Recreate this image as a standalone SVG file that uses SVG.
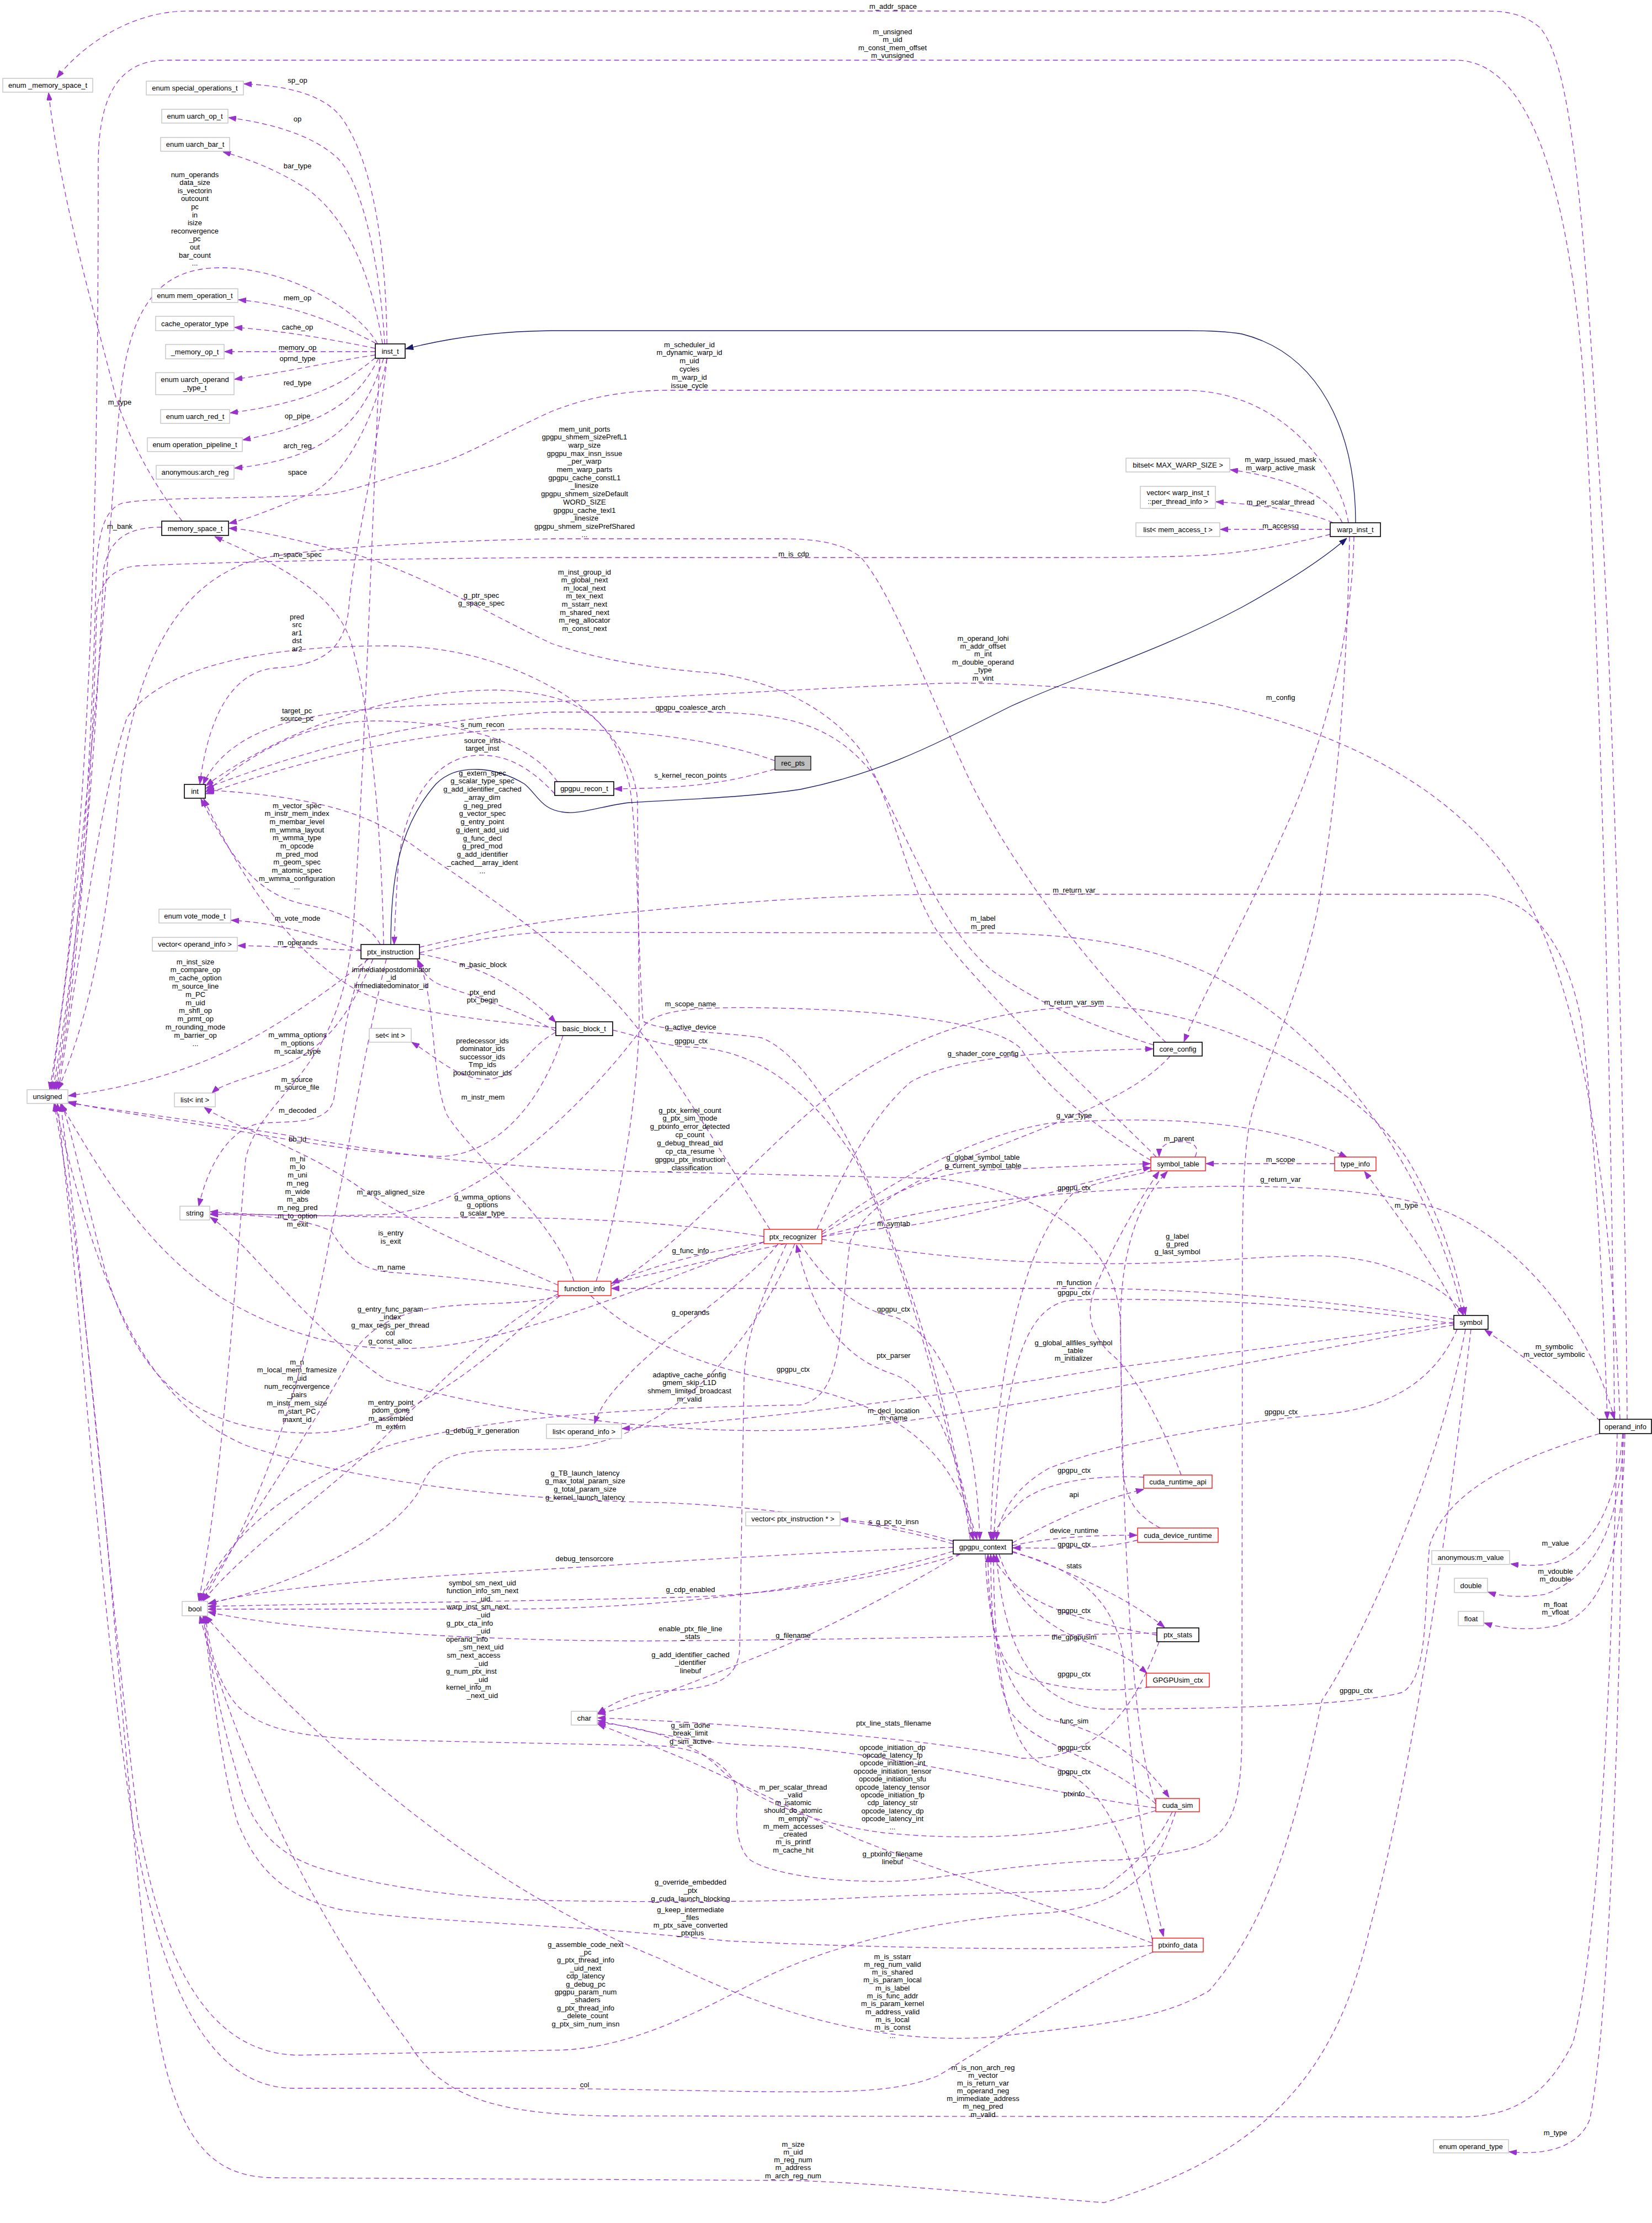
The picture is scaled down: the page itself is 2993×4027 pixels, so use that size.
<svg xmlns="http://www.w3.org/2000/svg" width="2993" height="4027" viewBox="0 0 2993 4027">
<style>
text{font-family:"Liberation Sans",Arial,Helvetica,sans-serif;font-size:13px;fill:#000;text-anchor:middle}
.g rect{fill:#fff;stroke:#bfbfbf;stroke-width:1.3}
.k rect{fill:#fff;stroke:#000;stroke-width:1.6}
.r rect{fill:#fff;stroke:#ff0000;stroke-width:1.3}
.f rect{fill:#bfbfbf;stroke:#000;stroke-width:1.3}
#edges path{fill:none;stroke:#9a32cd;stroke-width:1.3;stroke-dasharray:9,6;marker-end:url(#a)}
#edges path.i{stroke:#191970;stroke-dasharray:none;marker-end:url(#b)}
</style>
<defs>
<marker id="a" viewBox="0 0 14 10" refX="14" refY="5" markerWidth="14" markerHeight="10" markerUnits="userSpaceOnUse" orient="auto"><path d="M0,0 L14,5 L0,10 z" fill="#9a32cd" stroke="#9a32cd" stroke-dasharray="none"/></marker>
<marker id="b" viewBox="0 0 14 10" refX="14" refY="5" markerWidth="14" markerHeight="10" markerUnits="userSpaceOnUse" orient="auto"><path d="M0,0 L14,5 L0,10 z" fill="#191970" stroke="#191970" stroke-dasharray="none"/></marker>
</defs>
<rect width="2993" height="4027" fill="#fff"/>
<g id="edges">
<path d="M2948,2571 C2945,2200 2930,1400 2900,900 C2870,400 2850,120 2790,50 C2760,25 2730,20 2690,20 L340,20 C240,20 150,80 103,141"/>
<path d="M2925,2571 C2920,2000 2900,1200 2870,700 C2840,300 2760,112 2640,109 L300,109 C200,109 178,200 178,300 C178,800 170,1500 90,1974"/>
<path d="M701,623 C700,470 680,300 620,215 C590,172 520,155 442,152"/>
<path d="M697,623 C690,500 660,330 610,285 C560,240 480,222 414,213"/>
<path d="M693,623 C670,480 620,390 560,345 C500,305 440,285 404,275"/>
<path d="M684,623 C650,560 520,485 400,485 C300,485 240,540 220,700 C200,900 185,1300 93,1974"/>
<path d="M681,622 C620,590 540,553 432,543"/>
<path d="M680,631 C600,615 520,600 425,593"/>
<path d="M680,637 L407,637"/>
<path d="M680,643 C600,655 520,674 425,687"/>
<path d="M680,648 C630,690 570,728 417,748"/>
<path d="M686,649 C650,720 600,765 440,797"/>
<path d="M695,649 C660,760 600,830 425,848"/>
<path d="M701,649 C680,760 620,870 560,895 C500,920 450,940 415,948"/>
<path d="M330,944 C280,880 235,800 210,720 C170,560 110,360 88,168"/>
<path d="M293,955 C240,955 200,970 188,1030 C175,1300 160,1600 96,1974"/>
<path class="i" d="M2456,947 C2456,780 2390,640 2250,605 C2220,600 2180,599 2150,599 L1000,599 C880,600 790,618 735,632"/>
<path d="M2443,947 C2430,860 2330,710 2150,707 L1210,707 C1120,707 1050,725 1000,745 C900,790 830,835 765,848 C700,865 640,890 590,896 C420,905 270,900 220,912 C185,925 176,980 174,1050 C168,1300 150,1700 99,1974"/>
<path d="M2432,947 C2410,900 2340,866 2229,851"/>
<path d="M2415,947 C2380,930 2300,915 2203,909"/>
<path d="M2410,959 L2211,959"/>
<path d="M2410,968 C2340,985 2270,1000 2180,1006 C2100,1010 2000,1010 1900,1010 L1000,1010 C700,1012 400,1018 250,1025 C195,1030 180,1060 175,1110 C168,1400 145,1750 102,1974"/>
<path d="M2453,972 C2450,1150 2400,1350 2320,1520 C2250,1680 2180,1800 2145,1887"/>
<path d="M2112,1888 C2000,1780 1850,1600 1760,1420 C1680,1250 1620,1080 1560,1010 C1530,985 1480,976 1420,976 L1000,976 C800,980 600,990 480,1010 C350,1040 260,1150 220,1400 C200,1600 180,1800 105,1974"/>
<path d="M695,1711 C690,1450 665,1260 635,1160 C600,1060 470,1010 389,972"/>
<path d="M2095,2096 C2000,2000 1800,1820 1700,1690 C1640,1600 1620,1450 1560,1360 C1500,1280 1400,1235 1300,1220 C1200,1212 1100,1200 1000,1166 C900,1120 750,1030 620,998 C540,980 470,960 415,957"/>
<path d="M701,650 C680,850 640,1000 632,1100 C625,1180 580,1205 500,1210 C430,1215 380,1280 362,1420"/>
<path d="M1080,2321 C1120,2200 1155,2000 1158,1850 L1155,1450 C1150,1380 1100,1300 1000,1245 C900,1190 800,1170 700,1170 C500,1170 300,1200 230,1300 C180,1450 150,1700 106,1974"/>
<path d="M2935,2571 C2920,2200 2880,1900 2800,1700 C2700,1450 2450,1330 2200,1275 C2000,1245 1800,1235 1700,1238 C1400,1250 1200,1265 1000,1271 C800,1275 650,1280 560,1300 C450,1320 390,1370 368,1421"/>
<path d="M2090,1893 C2000,1865 1900,1830 1800,1760 C1700,1680 1640,1500 1580,1400 C1500,1300 1400,1290 1250,1290 L1000,1290 C800,1300 600,1340 373,1428"/>
<path d="M1010,1416 C950,1330 800,1306 680,1306 C560,1306 460,1360 373,1435"/>
<path d="M1404,1378 C1300,1340 1150,1322 1000,1320 C800,1318 600,1360 373,1438"/>
<path d="M1005,1438 C960,1390 920,1368 870,1368 C790,1368 735,1450 722,1560 C718,1620 716,1660 714,1711"/>
<path d="M1404,1393 C1320,1418 1250,1428 1113,1429"/>
<path d="M1395,2227 C1300,2080 1200,1900 1100,1800 C1000,1700 880,1620 760,1540 C680,1480 600,1445 374,1431"/>
<path d="M689,1711 C670,1675 620,1652 560,1640 C480,1625 430,1580 364,1447"/>
<path d="M760,1716 C850,1695 950,1672 1050,1662 C1300,1635 1500,1622 1700,1620 L2670,1620 C2780,1620 2840,1720 2865,1850 C2890,2050 2905,2350 2912,2571"/>
<path d="M656,1722 C560,1690 500,1672 419,1667"/>
<path d="M760,1726 C850,1705 920,1690 1000,1689 L1800,1690 C2000,1695 2150,1720 2300,1830 C2450,1940 2600,2150 2650,2382"/>
<path d="M654,1722 C560,1718 500,1714 431,1713"/>
<path d="M668,1737 C600,1790 520,1850 420,1900 C320,1950 200,1975 124,1985"/>
<path d="M1007,1862 C900,1850 720,1835 640,1790 C540,1730 450,1620 369,1447"/>
<path d="M760,1728 C850,1745 930,1775 1007,1852"/>
<path d="M1007,1868 C940,1830 860,1805 800,1785 C775,1775 765,1760 756,1738"/>
<path d="M2085,2102 C1950,2020 1880,1950 1850,1900 C1800,1850 1600,1830 1400,1826 C1250,1823 1190,1830 1165,1860 C1100,1950 900,2180 700,2200 C550,2205 450,2200 381,2195"/>
<path d="M1107,2330 C1250,2250 1400,2050 1550,1950 C1700,1850 1850,1823 2000,1823 C2200,1830 2450,1950 2550,2100 C2610,2200 2640,2300 2655,2382"/>
<path d="M1758,2790 C1720,2500 1550,1950 1380,1880 C1300,1868 1200,1870 1165,1850 C1155,1700 1155,1500 1140,1420 C1110,1300 1050,1255 900,1250 C700,1250 500,1330 373,1423"/>
<path d="M1110,1866 C1170,1880 1200,1895 1252,1897 C1350,1900 1450,1950 1550,2100 C1650,2300 1720,2600 1763,2789"/>
<path d="M676,1737 C640,1820 600,1900 500,1935 C440,1955 400,1965 384,1980"/>
<path d="M1007,1870 C950,1900 940,1955 880,1955 C830,1955 790,1915 746,1888"/>
<path d="M1480,2227 C1530,2120 1580,2020 1650,1960 C1720,1920 1850,1905 2089,1900"/>
<path d="M665,1737 C630,1800 615,1920 605,1990 C595,2040 520,2030 470,2035 C420,2045 380,2100 360,2185"/>
<path d="M1040,2321 C1000,2200 860,2100 810,2020 C780,1950 790,1800 757,1740"/>
<path d="M688,650 C676,900 660,1400 640,1680 C620,1950 470,1980 445,2100 C420,2400 400,2700 360,2900"/>
<path d="M2094,3265 C2050,3150 2035,2800 2030,2400 C2025,2250 1900,2160 1700,2135 L1250,2124 C1000,2121 800,2105 600,2070 C400,2035 200,2010 124,1998"/>
<path d="M1489,2232 C1600,2150 1750,2060 1900,2035 C2100,2020 2300,2030 2440,2096"/>
<path d="M2165,2096 C2175,2075 2160,2068 2135,2068 C2110,2068 2100,2080 2100,2095"/>
<path d="M1020,1876 C980,2000 900,2090 800,2095 C650,2090 500,2060 380,2040 C250,2020 160,2005 124,1996"/>
<path d="M1489,2236 C1600,2170 1680,2125 1781,2120 C1900,2115 2000,2110 2084,2108"/>
<path d="M2418,2108 L2185,2108"/>
<path d="M700,1737 C660,1900 620,2150 600,2230 C570,2400 500,2700 365,2900"/>
<path d="M1489,2240 C1700,2180 1900,2160 2100,2152 C2300,2144 2500,2150 2620,2195 C2750,2250 2880,2400 2925,2571"/>
<path d="M2088,2121 C2000,2140 1960,2150 1946,2160 C1850,2250 1800,2500 1795,2789"/>
<path d="M1011,2328 C900,2280 750,2220 650,2150 C550,2080 420,2040 370,2006"/>
<path d="M1384,2240 C1200,2210 1000,2205 874,2206 C700,2206 500,2200 381,2199"/>
<path d="M2644,2383 C2600,2290 2530,2200 2472,2122"/>
<path d="M1107,2325 C1300,2280 1500,2230 1619,2224 C1800,2200 1950,2140 2085,2115"/>
<path d="M1015,2347 C900,2380 720,2330 640,2450 C560,2600 420,2800 362,2900"/>
<path d="M1489,2245 C1700,2280 1900,2295 2128,2287 C2300,2280 2400,2262 2500,2290 C2580,2315 2630,2345 2652,2382"/>
<path d="M1384,2250 C1300,2265 1200,2285 1108,2325"/>
<path d="M1011,2340 C900,2320 780,2310 709,2305 C640,2300 620,2260 600,2230 C560,2210 480,2200 381,2200"/>
<path d="M2634,2390 C2400,2355 2200,2338 2000,2334 L1108,2334"/>
<path d="M2634,2398 C2400,2360 2100,2350 1946,2355 C1850,2360 1820,2500 1800,2789"/>
<path d="M1384,2250 C1200,2320 1000,2400 850,2430 C700,2460 550,2440 400,2350 C250,2250 170,2100 110,2000"/>
<path d="M1450,2253 C1500,2330 1560,2375 1619,2385 C1720,2420 1770,2600 1775,2789"/>
<path d="M1410,2253 C1350,2330 1200,2420 1130,2500 C1100,2530 1085,2555 1077,2579"/>
<path d="M2634,2395 C2400,2430 2150,2460 2000,2480 C1700,2530 1400,2570 1127,2588"/>
<path d="M2900,2575 C2820,2500 2750,2450 2690,2409"/>
<path d="M1765,2790 C1740,2650 1700,2520 1620,2490 C1530,2460 1480,2400 1443,2255"/>
<path d="M1015,2347 C900,2440 750,2600 550,2596 C350,2590 250,2500 190,2300 C150,2150 130,2050 112,2000"/>
<path d="M1070,2347 C1150,2420 1250,2470 1400,2500 C1600,2540 1720,2600 1770,2789"/>
<path d="M2120,1913 C2000,2050 1600,2100 1540,2250 C1520,2400 1530,2530 1450,2545 C1200,2550 900,2560 700,2620 C500,2700 400,2800 362,2900"/>
<path d="M1011,2344 C900,2400 800,2500 700,2600 C600,2700 450,2800 368,2900"/>
<path d="M2634,2400 C2300,2460 1900,2540 1619,2577 C1300,2620 900,2560 700,2500 C550,2400 450,2250 381,2205"/>
<path d="M2640,2408 C2600,2500 2520,2550 2400,2562 C2200,2580 2000,2620 1900,2660 C1830,2700 1810,2750 1805,2789"/>
<path d="M1440,2253 C1360,2450 1200,2620 1000,2625 C850,2628 790,2620 760,2700 C700,2800 500,2880 377,2905"/>
<path d="M2072,2676 C2000,2672 1900,2680 1850,2720 C1820,2750 1800,2770 1797,2789"/>
<path d="M1727,2797 C1600,2760 1400,2730 1200,2722 C1000,2718 700,2700 450,2620 C250,2540 170,2300 100,2000"/>
<path d="M1834,2795 C1900,2760 1980,2720 2072,2698"/>
<path d="M1727,2792 C1650,2770 1600,2760 1523,2752"/>
<path d="M1834,2800 C1900,2785 1980,2781 2060,2781"/>
<path d="M2940,2597 C2930,2720 2890,2800 2820,2830 C2790,2838 2760,2836 2737,2833"/>
<path d="M2061,2790 C2000,2805 1950,2805 1835,2804"/>
<path d="M1727,2803 C1500,2810 1200,2830 1000,2842 C800,2855 500,2870 378,2905"/>
<path d="M1834,2810 C1950,2850 2050,2900 2110,2948"/>
<path d="M2942,2597 C2935,2750 2900,2850 2800,2888 C2760,2895 2720,2892 2696,2884"/>
<path d="M1727,2810 C1500,2880 1200,2915 900,2915 C600,2915 450,2915 377,2915"/>
<path d="M1740,2815 C1600,2860 1400,2888 1251,2893 C1000,2900 600,2905 377,2910"/>
<path d="M2944,2597 C2940,2800 2910,2920 2820,2945 C2770,2955 2720,2950 2689,2940"/>
<path d="M2096,2962 C2000,2945 1900,2920 1850,2880 C1820,2855 1805,2835 1800,2816"/>
<path d="M2096,2958 C1800,2965 1500,2970 1251,2972 C1000,2975 800,2965 600,2950 C500,2942 420,2930 377,2920"/>
<path d="M1740,2815 C1650,2870 1500,2950 1400,2990 C1250,3050 1150,3090 1083,3105"/>
<path d="M1810,2815 C1830,2880 1880,2950 2000,2985 C2040,3000 2060,3015 2078,3031"/>
<path d="M1425,2253 C1380,2350 1350,2420 1348,2500 L1340,2990 C1335,3040 1300,3060 1200,3063 C1150,3065 1110,3085 1083,3104"/>
<path d="M2083,3056 C2000,3068 1900,3060 1840,3030 C1800,3000 1790,2900 1790,2816"/>
<path d="M2898,2597 C2750,2640 2620,2700 2590,2800 C2580,2900 2590,3040 2540,3066 C2450,3090 2200,3096 2000,3096 C1880,3090 1820,3000 1805,2816"/>
<path d="M1785,2816 C1790,2950 1820,3080 1900,3115 C1980,3130 2060,3170 2118,3256"/>
<path d="M2100,2974 C2060,3080 2000,3190 1850,3185 C1700,3150 1300,3120 1083,3112"/>
<path d="M2094,3275 C1900,3250 1600,3170 1400,3163 C1250,3160 1150,3130 1083,3117"/>
<path d="M2094,3268 C2000,3180 1880,3170 1830,3100 C1800,3040 1795,2900 1795,2816"/>
<path d="M2094,3280 C1900,3340 1700,3330 1600,3320 C1450,3300 1350,3250 1300,3200 C1250,3150 1150,3125 1083,3121"/>
<path d="M2088,3515 C2050,3350 2000,3220 1900,3200 C1820,3180 1800,3000 1800,2816"/>
<path d="M2445,972 C2440,1250 2420,1450 2395,1600 C2370,1780 2290,1920 2265,2030 C2255,2080 2252,2150 2251,2250 L2250,3150 C2248,3280 2230,3330 2150,3350 C2080,3365 2040,3370 2000,3370 C1800,3380 1700,3405 1620,3408 C1500,3410 1400,3395 1360,3370 C1335,3350 1332,3300 1336,3260 C1340,3220 1300,3170 1200,3163 C1100,3160 800,3155 640,3150 C540,3145 470,3130 430,3090 C395,3050 380,2990 372,2927"/>
<path d="M1834,2812 C1950,2840 2020,2900 2035,3000 C2045,3200 2080,3400 2108,3508"/>
<path d="M2088,3520 C1900,3450 1700,3390 1550,3330 C1400,3260 1300,3210 1200,3170 C1140,3145 1100,3130 1083,3123"/>
<path d="M2124,3282 C2100,3330 2070,3370 2000,3420 C1900,3430 1700,3430 1550,3438 C1400,3446 1200,3446 1000,3443 C850,3440 700,3420 600,3390 C520,3370 470,3330 440,3250 C410,3150 385,3050 370,2927"/>
<path d="M2088,3524 C2050,3528 2000,3529 1900,3530 C1700,3530 1500,3525 1319,3516 C1200,3505 1100,3495 1000,3490 C850,3480 720,3475 620,3460 C530,3440 470,3400 430,3300 C400,3200 385,3050 368,2927"/>
<path d="M2130,3282 C2100,3380 2050,3450 1900,3465 C1700,3475 1500,3520 1350,3600 C1200,3680 1100,3714 1000,3714 L540,3723 C400,3720 300,3600 250,3300 C200,2900 160,2400 110,2000"/>
<path d="M2655,2408 C2600,2700 2450,3000 2395,3080 C2350,3300 2300,3480 2191,3606 C2100,3660 2000,3666 1800,3690 C1600,3705 1400,3650 1200,3550 C1000,3470 700,3300 372,2927"/>
<path d="M2930,2597 C2920,3000 2900,3500 2850,3700 C2800,3800 2740,3833 2650,3835 L1100,3833 C900,3830 800,3800 740,3700 C550,3450 420,3150 362,2927"/>
<path d="M2090,3536 C2000,3570 1800,3700 1700,3760 C1600,3800 1500,3790 1000,3783 L530,3783 C400,3780 300,3650 240,3300 C180,2900 150,2400 104,1999"/>
<path d="M2940,2597 C2935,3200 2910,3700 2880,3840 C2860,3890 2800,3905 2734,3898"/>
<path d="M2665,2408 C2620,2800 2560,3200 2480,3500 C2420,3750 2300,3900 2000,3990 C1800,3975 1600,3955 1437,3950 L500,3945 C400,3945 330,3900 290,3700 C230,3400 190,2500 98,1999"/>
<path d="M2102,2768 C2060,2745 2035,2720 2033,2640 L2030,2400 C2030,2250 2070,2170 2115,2122"/>
<path d="M2140,2672 C2110,2590 2060,2490 2010,2450 C1980,2420 1960,2380 1990,2320 C2020,2250 2060,2180 2100,2122"/>
<path class="i" d="M708,1711 C708,1600 720,1500 790,1420 C830,1380 900,1390 950,1420 C975,1440 980,1470 1030,1472 C1060,1473 1100,1458 1140,1454 C1250,1447 1350,1445 1450,1430 C1600,1400 1700,1345 1830,1280 C1950,1225 2100,1180 2250,1100 C2340,1050 2400,1010 2440,975"/>
</g>
<g id="edge-labels">
<text x="1618" y="15.5">m_addr_space</text>
<text x="1617" y="61.5"><tspan x="1617">m_unsigned</tspan><tspan x="1617" dy="14.6">m_uid</tspan><tspan x="1617" dy="14.6">m_const_mem_offset</tspan><tspan x="1617" dy="14.6">m_vunsigned</tspan></text>
<text x="539" y="149.5">sp_op</text>
<text x="539" y="219.5">op</text>
<text x="539" y="304.5">bar_type</text>
<text x="353" y="320.5"><tspan x="353">num_operands</tspan><tspan x="353" dy="14.6">data_size</tspan><tspan x="353" dy="14.6">is_vectorin</tspan><tspan x="353" dy="14.6">outcount</tspan><tspan x="353" dy="14.6">pc</tspan><tspan x="353" dy="14.6">in</tspan><tspan x="353" dy="14.6">isize</tspan><tspan x="353" dy="14.6">reconvergence</tspan><tspan x="353" dy="14.6">_pc</tspan><tspan x="353" dy="14.6">out</tspan><tspan x="353" dy="14.6">bar_count</tspan><tspan x="353" dy="14.6">...</tspan></text>
<text x="539" y="543.5">mem_op</text>
<text x="539" y="596.5">cache_op</text>
<text x="539" y="633.5">memory_op</text>
<text x="539" y="653.5">oprnd_type</text>
<text x="539" y="697.5">red_type</text>
<text x="539" y="757.5">op_pipe</text>
<text x="539" y="811.5">arch_reg</text>
<text x="539" y="859.5">space</text>
<text x="217" y="732.5">m_type</text>
<text x="217" y="957.5">m_bank</text>
<text x="1249" y="628.5"><tspan x="1249">m_scheduler_id</tspan><tspan x="1249" dy="14.8">m_dynamic_warp_id</tspan><tspan x="1249" dy="14.8">m_uid</tspan><tspan x="1249" dy="14.8">cycles</tspan><tspan x="1249" dy="14.8">m_warp_id</tspan><tspan x="1249" dy="14.8">issue_cycle</tspan></text>
<text x="1059" y="781.5"><tspan x="1059">mem_unit_ports</tspan><tspan x="1059" dy="14.7">gpgpu_shmem_sizePrefL1</tspan><tspan x="1059" dy="14.7">warp_size</tspan><tspan x="1059" dy="14.7">gpgpu_max_insn_issue</tspan><tspan x="1059" dy="14.7">_per_warp</tspan><tspan x="1059" dy="14.7">mem_warp_parts</tspan><tspan x="1059" dy="14.7">gpgpu_cache_constL1</tspan><tspan x="1059" dy="14.7">_linesize</tspan><tspan x="1059" dy="14.7">gpgpu_shmem_sizeDefault</tspan><tspan x="1059" dy="14.7">WORD_SIZE</tspan><tspan x="1059" dy="14.7">gpgpu_cache_texl1</tspan><tspan x="1059" dy="14.7">_linesize</tspan><tspan x="1059" dy="14.7">gpgpu_shmem_sizePrefShared</tspan><tspan x="1059" dy="14.7">...</tspan></text>
<text x="2320" y="836.5"><tspan x="2320">m_warp_issued_mask</tspan><tspan x="2320" dy="15.5">m_warp_active_mask</tspan></text>
<text x="2320" y="913.5">m_per_scalar_thread</text>
<text x="2320" y="956.5">m_accessq</text>
<text x="539" y="1008.5">m_space_spec</text>
<text x="872" y="1082.5"><tspan x="872">g_ptr_spec</tspan><tspan x="872" dy="14.6">g_space_spec</tspan></text>
<text x="538" y="1121.5"><tspan x="538">pred</tspan><tspan x="538" dy="14.5">src</tspan><tspan x="538" dy="14.5">ar1</tspan><tspan x="538" dy="14.5">dst</tspan><tspan x="538" dy="14.5">ar2</tspan></text>
<text x="1438" y="1007.5">m_is_cdp</text>
<text x="1059" y="1040.5"><tspan x="1059">m_inst_group_id</tspan><tspan x="1059" dy="14.6">m_global_next</tspan><tspan x="1059" dy="14.6">m_local_next</tspan><tspan x="1059" dy="14.6">m_tex_next</tspan><tspan x="1059" dy="14.6">m_sstarr_next</tspan><tspan x="1059" dy="14.6">m_shared_next</tspan><tspan x="1059" dy="14.6">m_reg_allocator</tspan><tspan x="1059" dy="14.6">m_const_next</tspan></text>
<text x="1781" y="1160.5"><tspan x="1781">m_operand_lohi</tspan><tspan x="1781" dy="14.4">m_addr_offset</tspan><tspan x="1781" dy="14.4">m_int</tspan><tspan x="1781" dy="14.4">m_double_operand</tspan><tspan x="1781" dy="14.4">_type</tspan><tspan x="1781" dy="14.4">m_vint</tspan></text>
<text x="2320" y="1267.5">m_config</text>
<text x="1251" y="1285.5">gpgpu_coalesce_arch</text>
<text x="538" y="1291.5"><tspan x="538">target_pc</tspan><tspan x="538" dy="14.5">source_pc</tspan></text>
<text x="874" y="1316.5">s_num_recon</text>
<text x="874" y="1345.5"><tspan x="874">source_inst</tspan><tspan x="874" dy="14.8">target_inst</tspan></text>
<text x="1251" y="1408.5">s_kernel_recon_points</text>
<text x="874" y="1404.5"><tspan x="874">g_extern_spec</tspan><tspan x="874" dy="14.75">g_scalar_type_spec</tspan><tspan x="874" dy="14.75">g_add_identifier_cached</tspan><tspan x="874" dy="14.75">_array_dim</tspan><tspan x="874" dy="14.75">g_neg_pred</tspan><tspan x="874" dy="14.75">g_vector_spec</tspan><tspan x="874" dy="14.75">g_entry_point</tspan><tspan x="874" dy="14.75">g_ident_add_uid</tspan><tspan x="874" dy="14.75">g_func_decl</tspan><tspan x="874" dy="14.75">g_pred_mod</tspan><tspan x="874" dy="14.75">g_add_identifier</tspan><tspan x="874" dy="14.75">_cached__array_ident</tspan><tspan x="874" dy="14.75">...</tspan></text>
<text x="538" y="1463.5"><tspan x="538">m_vector_spec</tspan><tspan x="538" dy="14.7">m_instr_mem_index</tspan><tspan x="538" dy="14.7">m_membar_level</tspan><tspan x="538" dy="14.7">m_wmma_layout</tspan><tspan x="538" dy="14.7">m_wmma_type</tspan><tspan x="538" dy="14.7">m_opcode</tspan><tspan x="538" dy="14.7">m_pred_mod</tspan><tspan x="538" dy="14.7">m_geom_spec</tspan><tspan x="538" dy="14.7">m_atomic_spec</tspan><tspan x="538" dy="14.7">m_wmma_configuration</tspan><tspan x="538" dy="14.7">...</tspan></text>
<text x="1946" y="1616.5">m_return_var</text>
<text x="539" y="1667.5">m_vote_mode</text>
<text x="1781" y="1667.5"><tspan x="1781">m_label</tspan><tspan x="1781" dy="15">m_pred</tspan></text>
<text x="539" y="1711.5">m_operands</text>
<text x="354" y="1746.5"><tspan x="354">m_inst_size</tspan><tspan x="354" dy="14.8">m_compare_op</tspan><tspan x="354" dy="14.8">m_cache_option</tspan><tspan x="354" dy="14.8">m_source_line</tspan><tspan x="354" dy="14.8">m_PC</tspan><tspan x="354" dy="14.8">m_uid</tspan><tspan x="354" dy="14.8">m_shfl_op</tspan><tspan x="354" dy="14.8">m_prmt_op</tspan><tspan x="354" dy="14.8">m_rounding_mode</tspan><tspan x="354" dy="14.8">m_barrier_op</tspan><tspan x="354" dy="14.8">...</tspan></text>
<text x="709" y="1760.5"><tspan x="709">immediatepostdominator</tspan><tspan x="709" dy="14.5">_id</tspan><tspan x="709" dy="14.5">immediatedominator_id</tspan></text>
<text x="875" y="1751.5">m_basic_block</text>
<text x="874" y="1801.5"><tspan x="874">ptx_end</tspan><tspan x="874" dy="14.5">ptx_begin</tspan></text>
<text x="1251" y="1822.5">m_scope_name</text>
<text x="1946" y="1819.5">m_return_var_sym</text>
<text x="1251" y="1864.5">g_active_device</text>
<text x="1252" y="1889.5">gpgpu_ctx</text>
<text x="539" y="1878.5"><tspan x="539">m_wmma_options</tspan><tspan x="539" dy="15">m_options</tspan><tspan x="539" dy="15">m_scalar_type</tspan></text>
<text x="874" y="1889.5"><tspan x="874">predecessor_ids</tspan><tspan x="874" dy="14.5">dominator_ids</tspan><tspan x="874" dy="14.5">successor_ids</tspan><tspan x="874" dy="14.5">Tmp_ids</tspan><tspan x="874" dy="14.5">postdominator_ids</tspan></text>
<text x="1781" y="1912.5">g_shader_core_config</text>
<text x="538" y="1959.5"><tspan x="538">m_source</tspan><tspan x="538" dy="14.5">m_source_file</tspan></text>
<text x="875" y="1991.5">m_instr_mem</text>
<text x="539" y="2015.5">m_decoded</text>
<text x="1250" y="2015.5"><tspan x="1250">g_ptx_kernel_count</tspan><tspan x="1250" dy="14.86">g_ptx_sim_mode</tspan><tspan x="1250" dy="14.86">g_ptxinfo_error_detected</tspan><tspan x="1250" dy="14.86">cp_count</tspan><tspan x="1250" dy="14.86">g_debug_thread_uid</tspan><tspan x="1250" dy="14.86">cp_cta_resume</tspan><tspan x="1250" dy="14.86">gpgpu_ptx_instruction</tspan><tspan x="1250" dy="14.86">_classification</tspan></text>
<text x="1946" y="2024.5">g_var_type</text>
<text x="2136" y="2066.5">m_parent</text>
<text x="539" y="2067.5">bb_id</text>
<text x="1781" y="2100.5"><tspan x="1781">g_global_symbol_table</tspan><tspan x="1781" dy="15">g_current_symbol_table</tspan></text>
<text x="2320" y="2104.5">m_scope</text>
<text x="539" y="2103.5"><tspan x="539">m_hi</tspan><tspan x="539" dy="14.75">m_lo</tspan><tspan x="539" dy="14.75">m_uni</tspan><tspan x="539" dy="14.75">m_neg</tspan><tspan x="539" dy="14.75">m_wide</tspan><tspan x="539" dy="14.75">m_abs</tspan><tspan x="539" dy="14.75">m_neg_pred</tspan><tspan x="539" dy="14.75">m_to_option</tspan><tspan x="539" dy="14.75">m_exit</tspan></text>
<text x="2320" y="2140.5">g_return_var</text>
<text x="1946" y="2155.5">gpgpu_ctx</text>
<text x="708" y="2163.5">m_args_aligned_size</text>
<text x="874" y="2172.5"><tspan x="874">g_wmma_options</tspan><tspan x="874" dy="14.5">g_options</tspan><tspan x="874" dy="14.5">g_scalar_type</tspan></text>
<text x="2548" y="2187.5">m_type</text>
<text x="1619" y="2220.5">m_symtab</text>
<text x="708" y="2237.5"><tspan x="708">is_entry</tspan><tspan x="708" dy="15">is_exit</tspan></text>
<text x="2133" y="2243.5"><tspan x="2133">g_label</tspan><tspan x="2133" dy="14">g_pred</tspan><tspan x="2133" dy="14">g_last_symbol</tspan></text>
<text x="1251" y="2269.5">g_func_info</text>
<text x="709" y="2299.5">m_name</text>
<text x="1946" y="2327.5">m_function</text>
<text x="1946" y="2345.5">gpgpu_ctx</text>
<text x="707" y="2375.5"><tspan x="707">g_entry_func_param</tspan><tspan x="707" dy="14.5">_index</tspan><tspan x="707" dy="14.5">g_max_regs_per_thread</tspan><tspan x="707" dy="14.5">col</tspan><tspan x="707" dy="14.5">g_const_alloc</tspan></text>
<text x="1619" y="2375.5">gpgpu_ctx</text>
<text x="1251" y="2381.5">g_operands</text>
<text x="1945" y="2436.5"><tspan x="1945">g_global_allfiles_symbol</tspan><tspan x="1945" dy="14">_table</tspan><tspan x="1945" dy="14">m_initializer</tspan></text>
<text x="2816" y="2443.5"><tspan x="2816">m_symbolic</tspan><tspan x="2816" dy="14">m_vector_symbolic</tspan></text>
<text x="1619" y="2459.5">ptx_parser</text>
<text x="538" y="2471.5"><tspan x="538">m_n</tspan><tspan x="538" dy="14.86">m_local_mem_framesize</tspan><tspan x="538" dy="14.86">m_uid</tspan><tspan x="538" dy="14.86">num_reconvergence</tspan><tspan x="538" dy="14.86">_pairs</tspan><tspan x="538" dy="14.86">m_instr_mem_size</tspan><tspan x="538" dy="14.86">m_start_PC</tspan><tspan x="538" dy="14.86">maxnt_id</tspan></text>
<text x="1437" y="2484.5">gpgpu_ctx</text>
<text x="1249" y="2494.5"><tspan x="1249">adaptive_cache_config</tspan><tspan x="1249" dy="14.67">gmem_skip_L1D</tspan><tspan x="1249" dy="14.67">shmem_limited_broadcast</tspan><tspan x="1249" dy="14.67">m_valid</tspan></text>
<text x="708" y="2544.5"><tspan x="708">m_entry_point</tspan><tspan x="708" dy="14.67">pdom_done</tspan><tspan x="708" dy="14.67">m_assembled</tspan><tspan x="708" dy="14.67">m_extern</tspan></text>
<text x="1619" y="2559.5"><tspan x="1619">m_decl_location</tspan><tspan x="1619" dy="13.5">m_name</tspan></text>
<text x="2321" y="2561.5">gpgpu_ctx</text>
<text x="874" y="2595.5">g_debug_ir_generation</text>
<text x="1946" y="2667.5">gpgpu_ctx</text>
<text x="1060" y="2672.5"><tspan x="1060">g_TB_launch_latency</tspan><tspan x="1060" dy="14.67">g_max_total_param_size</tspan><tspan x="1060" dy="14.67">g_total_param_size</tspan><tspan x="1060" dy="14.67">g_kernel_launch_latency</tspan></text>
<text x="1946" y="2711.5">api</text>
<text x="1619" y="2760.5">s_g_pc_to_insn</text>
<text x="1946" y="2776.5">device_runtime</text>
<text x="2818" y="2799.5">m_value</text>
<text x="1946" y="2801.5">gpgpu_ctx</text>
<text x="1059" y="2827.5">debug_tensorcore</text>
<text x="1946" y="2840.5">stats</text>
<text x="2818" y="2850.5"><tspan x="2818">m_vdouble</tspan><tspan x="2818" dy="14">m_double</tspan></text>
<text y="2871.5"><tspan x="874">symbol_sm_next_uid</tspan><tspan x="874" dy="14.6">function_info_sm_next</tspan><tspan x="876" dy="14.6">_uid</tspan><tspan x="865" dy="14.6">warp_inst_sm_next</tspan><tspan x="876" dy="14.6">_uid</tspan><tspan x="851" dy="14.6">g_ptx_cta_info</tspan><tspan x="876" dy="14.6">_uid</tspan><tspan x="846" dy="14.6">operand_info</tspan><tspan x="872" dy="14.6">_sm_next_uid</tspan><tspan x="858" dy="14.6">sm_next_access</tspan><tspan x="872" dy="14.6">_uid</tspan><tspan x="854" dy="14.6">g_num_ptx_inst</tspan><tspan x="872" dy="14.6">_uid</tspan><tspan x="849" dy="14.6">kernel_info_m</tspan><tspan x="874" dy="14.6">_next_uid</tspan></text>
<text x="1251" y="2883.5">g_cdp_enabled</text>
<text x="2818" y="2910.5"><tspan x="2818">m_float</tspan><tspan x="2818" dy="14">m_vfloat</tspan></text>
<text x="1946" y="2921.5">gpgpu_ctx</text>
<text x="1251" y="2954.5"><tspan x="1251">enable_ptx_file_line</tspan><tspan x="1251" dy="14">_stats</tspan></text>
<text x="1437" y="2966.5">g_filename</text>
<text x="1946" y="2969.5">the_gpgpusim</text>
<text x="1251" y="3001.5"><tspan x="1251">g_add_identifier_cached</tspan><tspan x="1251" dy="14.5">_identifier</tspan><tspan x="1251" dy="14.5">linebuf</tspan></text>
<text x="1946" y="3036.5">gpgpu_ctx</text>
<text x="2457" y="3066.5">gpgpu_ctx</text>
<text x="1946" y="3121.5">func_sim</text>
<text x="1619" y="3125.5">ptx_line_stats_filename</text>
<text x="1251" y="3129.5"><tspan x="1251">g_sim_done</tspan><tspan x="1251" dy="14.5">break_limit</tspan><tspan x="1251" dy="14.5">g_sim_active</tspan></text>
<text x="1946" y="3169.5">gpgpu_ctx</text>
<text x="1617" y="3169.5"><tspan x="1617">opcode_initiation_dp</tspan><tspan x="1617" dy="14.4">opcode_latency_fp</tspan><tspan x="1617" dy="14.4">opcode_initiation_int</tspan><tspan x="1617" dy="14.4">opcode_initiation_tensor</tspan><tspan x="1617" dy="14.4">opcode_initiation_sfu</tspan><tspan x="1617" dy="14.4">opcode_latency_tensor</tspan><tspan x="1617" dy="14.4">opcode_initiation_fp</tspan><tspan x="1617" dy="14.4">cdp_latency_str</tspan><tspan x="1617" dy="14.4">opcode_latency_dp</tspan><tspan x="1617" dy="14.4">opcode_latency_int</tspan><tspan x="1617" dy="14.4">...</tspan></text>
<text x="1946" y="3213.5">gpgpu_ctx</text>
<text x="1437" y="3241.5"><tspan x="1437">m_per_scalar_thread</tspan><tspan x="1437" dy="14.25">_valid</tspan><tspan x="1437" dy="14.25">m_isatomic</tspan><tspan x="1437" dy="14.25">should_do_atomic</tspan><tspan x="1437" dy="14.25">m_empty</tspan><tspan x="1437" dy="14.25">m_mem_accesses</tspan><tspan x="1437" dy="14.25">_created</tspan><tspan x="1437" dy="14.25">m_is_printf</tspan><tspan x="1437" dy="14.25">m_cache_hit</tspan></text>
<text x="1946" y="3253.5">ptxinfo</text>
<text x="1617" y="3362.5"><tspan x="1617">g_ptxinfo_filename</tspan><tspan x="1617" dy="14">linebuf</tspan></text>
<text x="1251" y="3413.5"><tspan x="1251">g_override_embedded</tspan><tspan x="1251" dy="15">_ptx</tspan><tspan x="1251" dy="15">g_cuda_launch_blocking</tspan></text>
<text x="1251" y="3463.5"><tspan x="1251">g_keep_intermediate</tspan><tspan x="1251" dy="14.3">_files</tspan><tspan x="1251" dy="14.3">m_ptx_save_converted</tspan><tspan x="1251" dy="14.3">_ptxplus</tspan></text>
<text x="1061" y="3526.5"><tspan x="1061">g_assemble_code_next</tspan><tspan x="1061" dy="14.4">_pc</tspan><tspan x="1061" dy="14.4">g_ptx_thread_info</tspan><tspan x="1061" dy="14.4">_uid_next</tspan><tspan x="1061" dy="14.4">cdp_latency</tspan><tspan x="1061" dy="14.4">g_debug_pc</tspan><tspan x="1061" dy="14.4">gpgpu_param_num</tspan><tspan x="1061" dy="14.4">_shaders</tspan><tspan x="1061" dy="14.4">g_ptx_thread_info</tspan><tspan x="1061" dy="14.4">_delete_count</tspan><tspan x="1061" dy="14.4">g_ptx_sim_num_insn</tspan></text>
<text x="1617" y="3548.5"><tspan x="1617">m_is_sstarr</tspan><tspan x="1617" dy="14.3">m_reg_num_valid</tspan><tspan x="1617" dy="14.3">m_is_shared</tspan><tspan x="1617" dy="14.3">m_is_param_local</tspan><tspan x="1617" dy="14.3">m_is_label</tspan><tspan x="1617" dy="14.3">m_is_func_addr</tspan><tspan x="1617" dy="14.3">m_is_param_kernel</tspan><tspan x="1617" dy="14.3">m_address_valid</tspan><tspan x="1617" dy="14.3">m_is_local</tspan><tspan x="1617" dy="14.3">m_is_const</tspan><tspan x="1617" dy="14.3">...</tspan></text>
<text x="1781" y="3749.5"><tspan x="1781">m_is_non_arch_reg</tspan><tspan x="1781" dy="14.17">m_vector</tspan><tspan x="1781" dy="14.17">m_is_return_var</tspan><tspan x="1781" dy="14.17">m_operand_neg</tspan><tspan x="1781" dy="14.17">m_immediate_address</tspan><tspan x="1781" dy="14.17">m_neg_pred</tspan><tspan x="1781" dy="14.17">m_valid</tspan></text>
<text x="1059" y="3780.5">col</text>
<text x="2818" y="3867.5">m_type</text>
<text x="1437" y="3888.5"><tspan x="1437">m_size</tspan><tspan x="1437" dy="14.25">m_uid</tspan><tspan x="1437" dy="14.25">m_reg_num</tspan><tspan x="1437" dy="14.25">m_address</tspan><tspan x="1437" dy="14.25">m_arch_reg_num</tspan></text>
</g>
<g id="n_enum_memory_space_t" class="g"><rect x="5" y="142" width="163" height="25"/><text x="86.5" y="159">enum _memory_space_t</text></g>
<g id="n_enum_special_operations_t" class="g"><rect x="265" y="147" width="176" height="25"/><text x="353" y="164">enum special_operations_t</text></g>
<g id="n_enum_uarch_op_t" class="g"><rect x="293" y="198" width="120" height="25"/><text x="353" y="215">enum uarch_op_t</text></g>
<g id="n_enum_uarch_bar_t" class="g"><rect x="291" y="249" width="125" height="25"/><text x="353.5" y="266">enum uarch_bar_t</text></g>
<g id="n_enum_mem_operation_t" class="g"><rect x="275" y="523" width="156" height="25"/><text x="353" y="540">enum mem_operation_t</text></g>
<g id="n_cache_operator_type" class="g"><rect x="282" y="573" width="142" height="26"/><text x="353" y="590.5">cache_operator_type</text></g>
<g id="n_memory_op_t" class="g"><rect x="300" y="624" width="106" height="26"/><text x="353" y="641.5">_memory_op_t</text></g>
<g id="n_enum_uarch_operand_type_t" class="g"><rect x="282" y="675" width="142" height="40"/><text x="353" y="692"><tspan x="353">enum uarch_operand</tspan><tspan x="353" dy="15">_type_t</tspan></text></g>
<g id="n_enum_uarch_red_t" class="g"><rect x="291" y="742" width="125" height="25"/><text x="353.5" y="759">enum uarch_red_t</text></g>
<g id="n_enum_operation_pipeline_t" class="g"><rect x="267" y="793" width="172" height="25"/><text x="353" y="810">enum operation_pipeline_t</text></g>
<g id="n_anonymous_arch_reg" class="g"><rect x="283" y="843" width="141" height="25"/><text x="353.5" y="860">anonymous:arch_reg</text></g>
<g id="n_memory_space_t" class="k"><rect x="293" y="944" width="121" height="26"/><text x="353.5" y="961.5">memory_space_t</text></g>
<g id="n_inst_t" class="k"><rect x="680" y="623" width="54" height="26"/><text x="707" y="640.5">inst_t</text></g>
<g id="n_bitset" class="g"><rect x="2040" y="830" width="188" height="25"/><text x="2134" y="847">bitset&lt; MAX_WARP_SIZE &gt;</text></g>
<g id="n_vector_per_thread_info" class="g"><rect x="2066" y="881" width="136" height="40"/><text x="2134" y="897"><tspan x="2134">vector&lt; warp_inst_t</tspan><tspan x="2134" dy="15.5">::per_thread_info &gt;</tspan></text></g>
<g id="n_list_mem_access_t" class="g"><rect x="2058" y="947" width="152" height="25"/><text x="2134" y="964">list&lt; mem_access_t &gt;</text></g>
<g id="n_warp_inst_t" class="k"><rect x="2410" y="947" width="91" height="25"/><text x="2455.5" y="964">warp_inst_t</text></g>
<g id="n_int" class="k"><rect x="334" y="1421" width="38" height="25"/><text x="353" y="1438">int</text></g>
<g id="n_rec_pts" class="f"><rect x="1404" y="1370" width="65" height="25"/><text x="1436.5" y="1387">rec_pts</text></g>
<g id="n_gpgpu_recon_t" class="k"><rect x="1005" y="1416" width="107" height="25"/><text x="1058.5" y="1433">gpgpu_recon_t</text></g>
<g id="n_enum_vote_mode_t" class="g"><rect x="288" y="1647" width="130" height="25"/><text x="353" y="1664">enum vote_mode_t</text></g>
<g id="n_vector_operand_info" class="g"><rect x="276" y="1698" width="154" height="25"/><text x="353" y="1715">vector&lt; operand_info &gt;</text></g>
<g id="n_ptx_instruction" class="k"><rect x="654" y="1711" width="106" height="26"/><text x="707" y="1728.5">ptx_instruction</text></g>
<g id="n_set_int" class="g"><rect x="669" y="1863" width="76" height="25"/><text x="707" y="1880">set&lt; int &gt;</text></g>
<g id="n_basic_block_t" class="k"><rect x="1007" y="1851" width="103" height="25"/><text x="1058.5" y="1868">basic_block_t</text></g>
<g id="n_core_config" class="k"><rect x="2090" y="1888" width="88" height="25"/><text x="2134" y="1905">core_config</text></g>
<g id="n_unsigned" class="g"><rect x="49" y="1974" width="74" height="25"/><text x="86" y="1991">unsigned</text></g>
<g id="n_list_int" class="g"><rect x="316" y="1980" width="74" height="25"/><text x="353" y="1997">list&lt; int &gt;</text></g>
<g id="n_string" class="g"><rect x="326" y="2185" width="54" height="25"/><text x="353" y="2202">string</text></g>
<g id="n_symbol_table" class="r"><rect x="2085" y="2096" width="99" height="25"/><text x="2134.5" y="2113">symbol_table</text></g>
<g id="n_type_info" class="r"><rect x="2418" y="2096" width="75" height="25"/><text x="2455.5" y="2113">type_info</text></g>
<g id="n_ptx_recognizer" class="r"><rect x="1384" y="2227" width="105" height="26"/><text x="1436.5" y="2244.5">ptx_recognizer</text></g>
<g id="n_function_info" class="r"><rect x="1011" y="2321" width="96" height="26"/><text x="1059" y="2338.5">function_info</text></g>
<g id="n_symbol" class="k"><rect x="2634" y="2383" width="62" height="25"/><text x="2665" y="2400">symbol</text></g>
<g id="n_operand_info" class="k"><rect x="2898" y="2571" width="94" height="26"/><text x="2945" y="2588.5">operand_info</text></g>
<g id="n_list_operand_info" class="g"><rect x="990" y="2580" width="136" height="26"/><text x="1058" y="2597.5">list&lt; operand_info &gt;</text></g>
<g id="n_cuda_runtime_api" class="r"><rect x="2072" y="2672" width="124" height="24"/><text x="2134" y="2688.5">cuda_runtime_api</text></g>
<g id="n_vector_ptx_instruction" class="g"><rect x="1351" y="2739" width="171" height="25"/><text x="1436.5" y="2756">vector&lt; ptx_instruction * &gt;</text></g>
<g id="n_cuda_device_runtime" class="r"><rect x="2061" y="2768" width="146" height="26"/><text x="2134" y="2785.5">cuda_device_runtime</text></g>
<g id="n_gpgpu_context" class="k"><rect x="1727" y="2790" width="107" height="25"/><text x="1780.5" y="2807">gpgpu_context</text></g>
<g id="n_anonymous_m_value" class="g"><rect x="2594" y="2809" width="141" height="25"/><text x="2664.5" y="2826">anonymous:m_value</text></g>
<g id="n_double" class="g"><rect x="2635" y="2859" width="60" height="26"/><text x="2665" y="2876.5">double</text></g>
<g id="n_float" class="g"><rect x="2642" y="2919" width="46" height="26"/><text x="2665" y="2936.5">float</text></g>
<g id="n_bool" class="g"><rect x="330" y="2901" width="46" height="26"/><text x="353" y="2918.5">bool</text></g>
<g id="n_ptx_stats" class="k"><rect x="2096" y="2949" width="76" height="25"/><text x="2134" y="2966">ptx_stats</text></g>
<g id="n_GPGPUsim_ctx" class="r"><rect x="2077" y="3031" width="114" height="25"/><text x="2134" y="3048">GPGPUsim_ctx</text></g>
<g id="n_char" class="g"><rect x="1035" y="3100" width="47" height="25"/><text x="1058.5" y="3117">char</text></g>
<g id="n_cuda_sim" class="r"><rect x="2094" y="3258" width="79" height="24"/><text x="2133.5" y="3274.5">cuda_sim</text></g>
<g id="n_ptxinfo_data" class="r"><rect x="2088" y="3511" width="92" height="25"/><text x="2134" y="3528">ptxinfo_data</text></g>
<g id="n_enum_operand_type" class="g"><rect x="2597" y="3876" width="136" height="24"/><text x="2665" y="3892.5">enum operand_type</text></g>
</svg>
